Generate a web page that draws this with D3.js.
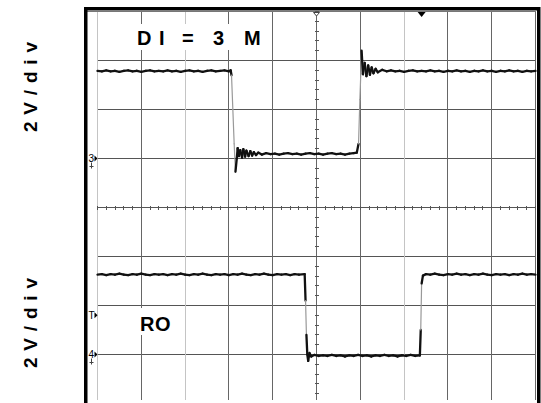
<!DOCTYPE html>
<html>
<head>
<meta charset="utf-8">
<script src="https://cdn.jsdelivr.net/npm/d3@7"></script>
<style>
  html, body { margin: 0; padding: 0; background: #fff; }
  svg { display: block; }
</style>
</head>
<body>
<svg id="scope" width="541" height="403"></svg>
<script>
// Screen grid: 10 horizontal divisions, 8 vertical divisions
const timeDivs = d3.range(0, 11);
const voltDivs = d3.range(-4, 5);
const lightTimeDivs = [0, 2, 7];

// Upper channel (DI), [time div, level div]
const diTrace = [
  [0, 2.79], [0.1, 2.78], [0.2, 2.80], [0.3, 2.78], [0.4, 2.79], [0.5, 2.77],
  [0.6, 2.79], [0.7, 2.80], [0.8, 2.78], [0.9, 2.79], [1.0, 2.77], [1.1, 2.79],
  [1.2, 2.80], [1.3, 2.78], [1.4, 2.79], [1.5, 2.78], [1.6, 2.80], [1.7, 2.78],
  [1.8, 2.79], [1.9, 2.77], [2.0, 2.79], [2.1, 2.80], [2.2, 2.78], [2.3, 2.79],
  [2.4, 2.77], [2.5, 2.79], [2.6, 2.80], [2.7, 2.78], [2.8, 2.79], [2.9, 2.80],
  [3.0, 2.78], [3.04, 2.80],
  [3.06, 2.70], [3.09, 2.0], [3.12, 1.3], [3.15, 0.73], [3.18, 1.0],
  [3.20, 1.21], [3.23, 1.05], [3.26, 1.17], [3.30, 1.02], [3.33, 1.19],
  [3.37, 1.04], [3.40, 1.16], [3.45, 1.05], [3.49, 1.15], [3.53, 1.06],
  [3.57, 1.13], [3.62, 1.07], [3.67, 1.12], [3.75, 1.08], [3.85, 1.11],
  [3.95, 1.09], [4.05, 1.10], [4.15, 1.08], [4.25, 1.10], [4.35, 1.11],
  [4.45, 1.09], [4.55, 1.10], [4.65, 1.08], [4.75, 1.10], [4.85, 1.11],
  [4.95, 1.09], [5.05, 1.10], [5.15, 1.08], [5.25, 1.10], [5.35, 1.11],
  [5.45, 1.09], [5.55, 1.10], [5.65, 1.08], [5.75, 1.10], [5.85, 1.11],
  [5.92, 1.12],
  [5.96, 1.3], [5.99, 2.2], [6.03, 3.20], [6.06, 2.72], [6.10, 2.95],
  [6.14, 2.68], [6.18, 2.90], [6.22, 2.71], [6.26, 2.86], [6.30, 2.74],
  [6.35, 2.83], [6.40, 2.76], [6.5, 2.81], [6.6, 2.78], [6.7, 2.80],
  [6.8, 2.78], [6.9, 2.79], [7.0, 2.77], [7.1, 2.79], [7.2, 2.80], [7.3, 2.78],
  [7.4, 2.79], [7.5, 2.78], [7.6, 2.80], [7.7, 2.78], [7.8, 2.79], [7.9, 2.77],
  [8.0, 2.79], [8.1, 2.78], [8.2, 2.80], [8.3, 2.78], [8.4, 2.79], [8.5, 2.77],
  [8.6, 2.79], [8.7, 2.78], [8.8, 2.80], [8.9, 2.78], [9.0, 2.79], [9.1, 2.77],
  [9.2, 2.79], [9.3, 2.78], [9.4, 2.80], [9.5, 2.78], [9.6, 2.79], [9.7, 2.77],
  [9.8, 2.79], [9.9, 2.78], [10, 2.79]
];

// Lower channel (RO), [time div, level div]
const roTrace = [
  [0, -1.37], [0.1, -1.36], [0.2, -1.38], [0.3, -1.36], [0.4, -1.37],
  [0.5, -1.35], [0.6, -1.37], [0.7, -1.38], [0.8, -1.36], [0.9, -1.37],
  [1.0, -1.35], [1.1, -1.37], [1.2, -1.38], [1.3, -1.36], [1.4, -1.37],
  [1.5, -1.36], [1.6, -1.38], [1.7, -1.36], [1.8, -1.37], [1.9, -1.35],
  [2.0, -1.37], [2.1, -1.38], [2.2, -1.36], [2.3, -1.37], [2.4, -1.35],
  [2.5, -1.37], [2.6, -1.38], [2.7, -1.36], [2.8, -1.37], [2.9, -1.36],
  [3.0, -1.38], [3.1, -1.36], [3.2, -1.37], [3.3, -1.35], [3.4, -1.37],
  [3.5, -1.38], [3.6, -1.36], [3.7, -1.37], [3.8, -1.35], [3.9, -1.37],
  [4.0, -1.38], [4.1, -1.36], [4.2, -1.37], [4.3, -1.36], [4.4, -1.38],
  [4.5, -1.36], [4.6, -1.37], [4.73, -1.36],
  [4.75, -1.9], [4.77, -2.6], [4.79, -3.0], [4.81, -3.13], [4.84, -2.97],
  [4.88, -3.04], [4.95, -3.01], [5.05, -3.03], [5.15, -3.02], [5.25, -3.03],
  [5.35, -3.01], [5.45, -3.03], [5.55, -3.02], [5.65, -3.04], [5.75, -3.02],
  [5.85, -3.03], [5.95, -3.01], [6.05, -3.03], [6.15, -3.02], [6.25, -3.04],
  [6.35, -3.02], [6.45, -3.03], [6.55, -3.01], [6.65, -3.03], [6.75, -3.02],
  [6.85, -3.04], [6.95, -3.02], [7.05, -3.03], [7.15, -3.01], [7.25, -3.03],
  [7.36, -3.02],
  [7.38, -2.5], [7.40, -1.55], [7.43, -1.39], [7.5, -1.36], [7.6, -1.37],
  [7.7, -1.35], [7.8, -1.37], [7.9, -1.38], [8.0, -1.36], [8.1, -1.37],
  [8.2, -1.35], [8.3, -1.37], [8.4, -1.36], [8.5, -1.38], [8.6, -1.36],
  [8.7, -1.37], [8.8, -1.35], [8.9, -1.37], [9.0, -1.38], [9.1, -1.36],
  [9.2, -1.37], [9.3, -1.36], [9.4, -1.38], [9.5, -1.36], [9.6, -1.37],
  [9.7, -1.35], [9.8, -1.37], [9.9, -1.36], [10, -1.37]
];

const scaleLabel = '2V/div';
const topTitle = ['D', 'I', '=', '3', 'M'];
const bottomTitle = 'RO';
// channel reference markers: [label, level div]
const groundMarkers = [['3', 1], ['T', -2.2], ['4', -3]];
const trigTimes = [5, 7.4];

const svg = d3.select('#scope');
const x = d3.scaleLinear().domain([0, 10]).range([97.5, 535.5]);
const y = d3.scaleLinear().domain([-4, 4]).range([403.5, 11.5]);

// grid
const grid = svg.append('g').attr('shape-rendering', 'crispEdges');
grid.selectAll('line.h')
    .data(voltDivs)
    .enter()
    .append('line')
    .attr('x1', (d) => d === 4 ? 87 : x(0))
    .attr('x2', x(10))
    .attr('y1', (d) => y(d))
    .attr('y2', (d) => y(d))
    .attr('stroke', (d) => d === 4 ? '#777' : '#555');
grid.selectAll('line.v')
    .data(timeDivs)
    .enter()
    .append('line')
    .attr('x1', (d) => x(d))
    .attr('x2', (d) => x(d))
    .attr('y1', y(4))
    .attr('y2', 400)
    .attr('stroke', (d) => lightTimeDivs.includes(d) ? '#c4c4c4' : '#666');

// minor ticks on the centre axes
grid.selectAll('line.tx')
    .data(d3.range(0, 10.01, 0.2))
    .enter()
    .append('line')
    .attr('x1', (d) => x(d))
    .attr('x2', (d) => x(d))
    .attr('y1', y(0) - 2)
    .attr('y2', y(0) + 2)
    .attr('stroke', '#555');
grid.selectAll('line.ty')
    .data(d3.range(-4, 4.01, 0.2))
    .enter()
    .append('line')
    .attr('x1', x(5) - 2)
    .attr('x2', x(5) + 2)
    .attr('y1', (d) => y(d))
    .attr('y2', (d) => y(d))
    .attr('stroke', '#555');

// white boxes behind the in-screen labels
svg.append('rect').attr('x', 100).attr('y', 24).attr('width', 171)
    .attr('height', 26).attr('fill', '#fff');
svg.append('rect').attr('x', 126).attr('y', 308).attr('width', 52)
    .attr('height', 27).attr('fill', '#fff');

// traces: big jumps are faint grey, the rest dark
function drawTrace(data) {
  const pairs = d3.pairs(data);
  const steep = (d) => Math.abs(d[1][1] - d[0][1]) > 0.55;
  svg.append('g')
      .attr('stroke-linecap', 'round')
      .selectAll('line')
      .data(pairs)
      .enter()
      .append('line')
      .attr('x1', (d) => x(d[0][0]))
      .attr('y1', (d) => y(d[0][1]))
      .attr('x2', (d) => x(d[1][0]))
      .attr('y2', (d) => y(d[1][1]))
      .attr('stroke', (d) => steep(d) ? '#999' : '#111')
      .attr('stroke-width', (d) => steep(d) ? 1.2 : 2.3);
}
drawTrace(diTrace);
drawTrace(roTrace);

// labels
const font = 'Liberation Sans, Arial, sans-serif';
const titlePos = [137, 159, 182, 213, 244];
const title = svg.append('text')
    .attr('y', 45)
    .attr('font-family', font)
    .attr('font-weight', 'bold')
    .attr('font-size', 20)
    .attr('fill', '#000');
title.selectAll('tspan')
    .data(topTitle)
    .enter()
    .append('tspan')
    .attr('x', (d, i) => titlePos[i])
    .text((d) => d);

svg.append('text')
    .attr('x', 140)
    .attr('y', 331)
    .attr('font-family', font)
    .attr('font-weight', 'bold')
    .attr('font-size', 20)
    .attr('letter-spacing', 0.5)
    .text(bottomTitle);

[[132, 37], [368, 37]].forEach((p) => {
  svg.append('text')
      .attr('transform', `translate(${p[1]},${p[0]}) rotate(-90)`)
      .attr('font-family', font)
      .attr('font-weight', 'bold')
      .attr('font-size', 19)
      .attr('letter-spacing', 6.8)
      .text(scaleLabel);
});

// frame
svg.append('rect')
    .attr('x', 85.75).attr('y', 8.75)
    .attr('width', 453).attr('height', 420)
    .attr('fill', 'none').attr('stroke', '#000').attr('stroke-width', 3.5);

// channel markers on the left edge
const mk = svg.append('g');
groundMarkers.forEach((m) => {
  const yy = y(m[1]);
  mk.append('text')
      .attr('x', 88.5).attr('y', yy + 3.5)
      .attr('font-family', font).attr('font-size', 10)
      .text(m[0]);
  mk.append('path')
      .attr('d', `M${x(0) - 3},${yy - 3}L${x(0)},${yy}L${x(0) - 3},${yy + 3}Z`)
      .attr('fill', '#000');
  if (m[0] !== 'T') {
    mk.append('path')
        .attr('d', `M${91.5},${yy + 4}V${yy + 10}M${89.5},${yy + 8}H${93.5}`)
        .attr('stroke', '#444').attr('stroke-width', 1);
  }
});

// trigger markers at the top
mk.append('path')
    .attr('d', `M${x(trigTimes[0]) - 3},12.5L${x(trigTimes[0]) + 3},12.5L${x(trigTimes[0])},16Z`)
    .attr('fill', '#fff').attr('stroke', '#444');
mk.append('path')
    .attr('d', `M${x(trigTimes[1]) - 4},12L${x(trigTimes[1]) + 4},12L${x(trigTimes[1])},17Z`)
    .attr('fill', '#000');
</script>
</body>
</html>
